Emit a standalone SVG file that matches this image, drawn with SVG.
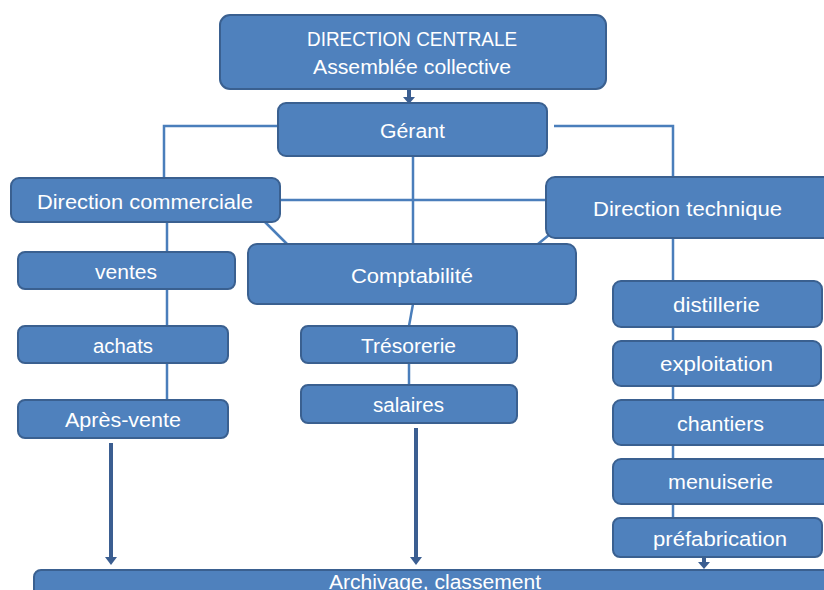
<svg xmlns="http://www.w3.org/2000/svg" width="824" height="590" viewBox="0 0 824 590">
<style>
.box{fill:#4F81BD;stroke:#3A6090;stroke-width:2}
.t{font-family:"Liberation Sans",Arial,sans-serif;font-size:20px;fill:#FFFFFF;text-anchor:middle}
.ln{stroke:#4A7EBB;stroke-width:2.5;fill:none}
.ar{stroke:#3B5E91;stroke-width:4;fill:none}
.ah{fill:#3B5E91}
</style>
<rect width="824" height="590" fill="#FFFFFF"/>
<g id="connectors">
<path class="ln" d="M278 126 H164 V180"/>
<path class="ln" d="M554 126 H673 V180"/>
<path class="ln" d="M280 200 H546"/>
<path class="ln" d="M413 156 V244"/>
<path class="ln" d="M265 222 L287 244"/>
<path class="ln" d="M549 235 L538 244"/>
<path class="ln" d="M413 304 L409 326"/>
<path class="ln" d="M409 363 V385"/>
<path class="ln" d="M167 222 V252"/>
<path class="ln" d="M167 289 V326"/>
<path class="ln" d="M167 363 V400"/>
<path class="ln" d="M673 238 V281"/>
<path class="ln" d="M673 327 V341"/>
<path class="ln" d="M673 386 V400"/>
<path class="ln" d="M673 445 V459"/>
<path class="ln" d="M673 504 V518"/>
<line class="ar" x1="409" y1="89" x2="409" y2="98"/>
<polygon class="ah" points="403,97 415,97 409,104"/>
<line class="ar" x1="111" y1="443" x2="111" y2="558"/>
<polygon class="ah" points="105,557 117,557 111,565"/>
<line class="ar" x1="416" y1="428" x2="416" y2="558"/>
<polygon class="ah" points="410,557 422,557 416,565"/>
<line class="ar" x1="704" y1="557" x2="704" y2="563"/>
<polygon class="ah" points="698,562 710,562 704,569"/>
</g>
<g id="direction-centrale"><rect class="box" x="220" y="15" width="386" height="74" rx="10"/>
<text class="t" x="412" y="46" textLength="210" lengthAdjust="spacingAndGlyphs">DIRECTION CENTRALE</text>
<text class="t" x="412" y="74" textLength="198" lengthAdjust="spacingAndGlyphs">Assemblée collective</text></g>
<g id="gerant"><rect class="box" x="278" y="103" width="269" height="53" rx="8"/>
<text class="t" x="412.5" y="138" textLength="65" lengthAdjust="spacingAndGlyphs">Gérant</text></g>
<g id="direction-commerciale"><rect class="box" x="11" y="178" width="269" height="44" rx="8"/>
<text class="t" x="145" y="209" textLength="216" lengthAdjust="spacingAndGlyphs">Direction commerciale</text></g>
<g id="direction-technique"><rect class="box" x="546" y="177" width="290" height="61" rx="9"/>
<text class="t" x="687.5" y="216" textLength="189" lengthAdjust="spacingAndGlyphs">Direction technique</text></g>
<g id="comptabilite"><rect class="box" x="248" y="244" width="328" height="60" rx="9"/>
<text class="t" x="412" y="283" textLength="122" lengthAdjust="spacingAndGlyphs">Comptabilité</text></g>
<g id="ventes"><rect class="box" x="18" y="252" width="217" height="37" rx="7"/>
<text class="t" x="126" y="279" textLength="62" lengthAdjust="spacingAndGlyphs">ventes</text></g>
<g id="achats"><rect class="box" x="18" y="326" width="210" height="37" rx="7"/>
<text class="t" x="123" y="353" textLength="60" lengthAdjust="spacingAndGlyphs">achats</text></g>
<g id="apres-vente"><rect class="box" x="18" y="400" width="210" height="38" rx="7"/>
<text class="t" x="123" y="427" textLength="116" lengthAdjust="spacingAndGlyphs">Après-vente</text></g>
<g id="tresorerie"><rect class="box" x="301" y="326" width="216" height="37" rx="7"/>
<text class="t" x="408.5" y="353" textLength="95" lengthAdjust="spacingAndGlyphs">Trésorerie</text></g>
<g id="salaires"><rect class="box" x="301" y="385" width="216" height="38" rx="7"/>
<text class="t" x="408.5" y="412" textLength="71" lengthAdjust="spacingAndGlyphs">salaires</text></g>
<g id="distillerie"><rect class="box" x="613" y="281" width="209" height="46" rx="8"/>
<text class="t" x="716.5" y="312" textLength="87" lengthAdjust="spacingAndGlyphs">distillerie</text></g>
<g id="exploitation"><rect class="box" x="613" y="341" width="208" height="45" rx="8"/>
<text class="t" x="716.5" y="371" textLength="113" lengthAdjust="spacingAndGlyphs">exploitation</text></g>
<g id="chantiers"><rect class="box" x="613" y="400" width="220" height="45" rx="8"/>
<text class="t" x="720.5" y="431" textLength="87" lengthAdjust="spacingAndGlyphs">chantiers</text></g>
<g id="menuiserie"><rect class="box" x="613" y="459" width="220" height="45" rx="8"/>
<text class="t" x="720.5" y="489" textLength="105" lengthAdjust="spacingAndGlyphs">menuiserie</text></g>
<g id="prefabrication"><rect class="box" x="613" y="518" width="209" height="39" rx="7"/>
<text class="t" x="720" y="546" textLength="134" lengthAdjust="spacingAndGlyphs">préfabrication</text></g>
<g id="archivage"><rect class="box" x="34" y="570" width="800" height="40" rx="7"/>
<text class="t" x="435" y="589" textLength="212" lengthAdjust="spacingAndGlyphs">Archivage, classement</text></g>
</svg>
